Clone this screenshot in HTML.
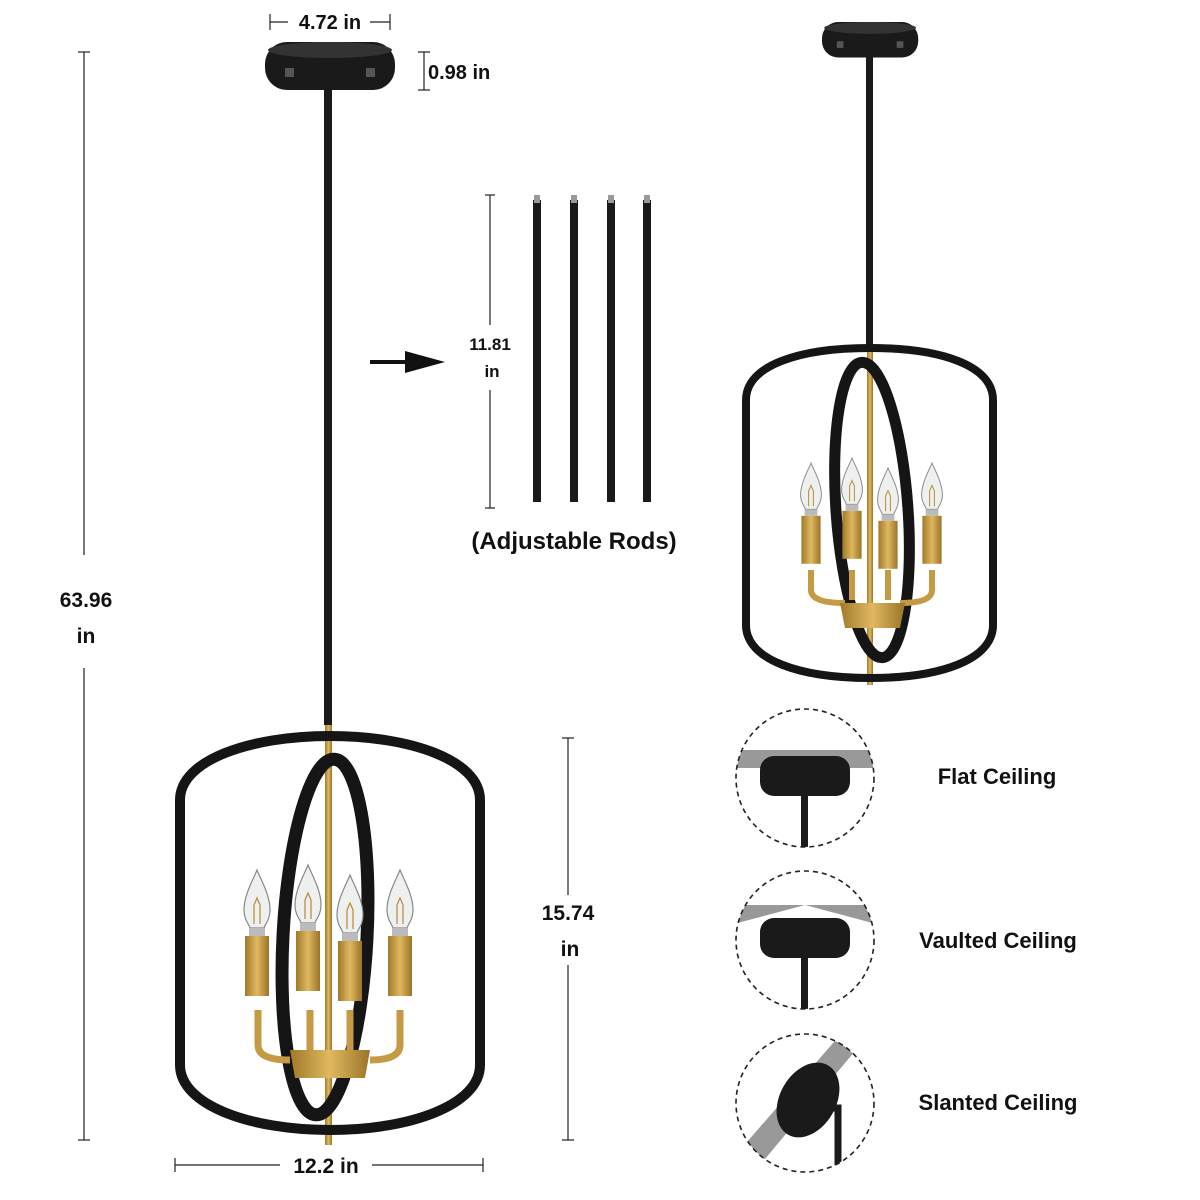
<!DOCTYPE html>
<html><head><meta charset="utf-8"><style>
html,body{margin:0;padding:0;background:#fff;}
svg{display:block}
text{font-family:"Liberation Sans",sans-serif;font-weight:bold;fill:#111}
</style></head><body>
<svg width="1200" height="1200" viewBox="0 0 1200 1200" xmlns="http://www.w3.org/2000/svg">
<defs>
<linearGradient id="gold" x1="0" x2="1"><stop offset="0" stop-color="#a07a2a"/><stop offset="0.5" stop-color="#e0b860"/><stop offset="1" stop-color="#9a7428"/></linearGradient>
<g id="bulb"><path d="M0,-40 C-4,-30 -13,-15 -13,0 C-13,10 -8,14 -7,18 L7,18 C8,14 13,10 13,0 C13,-15 4,-30 0,-40Z" fill="#eef0f0" stroke="#888" stroke-width="1.2"/><path d="M-3,14 L-3,-5 L0,-12 L3,-5 L3,14" fill="none" stroke="#b89040" stroke-width="1.3"/><rect x="-8" y="18" width="16" height="8" fill="#bbb"/><rect x="-12" y="26" width="24" height="60" fill="url(#gold)"/></g>
<g id="canopy"><rect x="0" y="0" width="130" height="48" rx="22" fill="#1a1a1a"/><ellipse cx="65" cy="8" rx="62" ry="8" fill="#333"/><rect x="20" y="26" width="9" height="9" fill="#555"/><rect x="101" y="26" width="9" height="9" fill="#555"/></g>
</defs>

<g stroke="#222" stroke-width="1.2" fill="none">
<line x1="84" y1="52" x2="84" y2="555"/><line x1="84" y1="668" x2="84" y2="1140"/>
<line x1="78" y1="52" x2="90" y2="52"/><line x1="78" y1="1140" x2="90" y2="1140"/>
<line x1="270" y1="22" x2="288" y2="22"/><line x1="370" y1="22" x2="390" y2="22"/><line x1="270" y1="14" x2="270" y2="30"/><line x1="390" y1="14" x2="390" y2="30"/>
<line x1="418" y1="52" x2="430" y2="52"/><line x1="418" y1="90" x2="430" y2="90"/><line x1="424" y1="52" x2="424" y2="90"/>
<line x1="490" y1="195" x2="490" y2="325"/><line x1="490" y1="390" x2="490" y2="508"/><line x1="485" y1="195" x2="495" y2="195"/><line x1="485" y1="508" x2="495" y2="508"/>
<line x1="568" y1="738" x2="568" y2="895"/><line x1="568" y1="965" x2="568" y2="1140"/><line x1="562" y1="738" x2="574" y2="738"/><line x1="562" y1="1140" x2="574" y2="1140"/>
<line x1="175" y1="1165" x2="280" y2="1165"/><line x1="372" y1="1165" x2="483" y2="1165"/><line x1="175" y1="1158" x2="175" y2="1172"/><line x1="483" y1="1158" x2="483" y2="1172"/>
</g>
<text x="86" y="607" font-size="21" text-anchor="middle">63.96</text><text x="86" y="643" font-size="21" text-anchor="middle">in</text>
<text x="330" y="29" font-size="20" text-anchor="middle">4.72 in</text>
<text x="428" y="79" font-size="20">0.98 in</text>
<text x="490" y="350" font-size="17" text-anchor="middle">11.81</text><text x="492" y="377" font-size="17" text-anchor="middle">in</text>
<text x="568" y="920" font-size="21" text-anchor="middle">15.74</text><text x="570" y="956" font-size="21" text-anchor="middle">in</text>
<text x="326" y="1173" font-size="21" text-anchor="middle">12.2 in</text>

<line x1="370" y1="362" x2="410" y2="362" stroke="#111" stroke-width="4"/><polygon points="405,351 445,362 405,373" fill="#111"/>
<g fill="#1a1a1a"><rect x="533" y="200" width="8" height="302"/><rect x="570" y="200" width="8" height="302"/><rect x="607" y="200" width="8" height="302"/><rect x="643" y="200" width="8" height="302"/></g>
<g fill="#999"><rect x="534" y="195" width="6" height="8"/><rect x="571" y="195" width="6" height="8"/><rect x="608" y="195" width="6" height="8"/><rect x="644" y="195" width="6" height="8"/></g>
<text x="574" y="549" font-size="24" text-anchor="middle">(Adjustable Rods)</text>

<use href="#canopy" x="265" y="42"/>
<rect x="324" y="90" width="8" height="635" fill="#1a1a1a"/>
<rect x="325" y="725" width="7" height="420" fill="url(#gold)"/>
<path d="M180,800 C180,760 250,736 330,736 C410,736 480,760 480,800 L480,1065 C480,1105 410,1130 330,1130 C250,1130 180,1105 180,1065 Z" fill="none" stroke="#151515" stroke-width="10"/>
<ellipse cx="325" cy="937" rx="42" ry="178" fill="none" stroke="#151515" stroke-width="13" transform="rotate(3 325 937)"/>
<path d="M258,1010 L258,1045 Q258,1060 290,1060 M400,1010 L400,1045 Q400,1060 370,1060 M310,1010 L310,1050 M350,1010 L350,1050" fill="none" stroke="#c49a45" stroke-width="7"/>
<path d="M290,1050 L370,1050 L365,1078 L295,1078 Z" fill="url(#gold)"/>
<use href="#bulb" x="257" y="910"/><use href="#bulb" x="308" y="905"/><use href="#bulb" x="350" y="915"/><use href="#bulb" x="400" y="910"/>

<use href="#canopy" transform="translate(822 22) scale(0.74)"/>
<rect x="866" y="57" width="7" height="288" fill="#1a1a1a"/>
<rect x="867" y="345" width="6" height="340" fill="url(#gold)"/>
<path d="M746,400 C746,365 800,348 870,348 C940,348 993,365 993,400 L993,625 C993,660 940,678 870,678 C800,678 746,660 746,625 Z" fill="none" stroke="#151515" stroke-width="8"/>
<ellipse cx="872" cy="510" rx="36" ry="148" fill="none" stroke="#151515" stroke-width="11" transform="rotate(-4 872 510)"/>
<path d="M811,570 L811,590 Q811,603 845,603 M932,570 L932,590 Q932,603 900,603 M852,570 L852,600 M888,570 L888,600" fill="none" stroke="#c49a45" stroke-width="6"/>
<path d="M840,603 L905,603 L900,628 L845,628 Z" fill="url(#gold)"/>
<g transform="translate(811 495) scale(0.8)"><use href="#bulb"/></g>
<g transform="translate(852 490) scale(0.8)"><use href="#bulb"/></g>
<g transform="translate(888 500) scale(0.8)"><use href="#bulb"/></g>
<g transform="translate(932 495) scale(0.8)"><use href="#bulb"/></g>

<clipPath id="c1"><circle cx="805" cy="778" r="69"/></clipPath>
<clipPath id="c2"><circle cx="805" cy="940" r="69"/></clipPath>
<clipPath id="c3"><circle cx="805" cy="1103" r="69"/></clipPath>
<g clip-path="url(#c1)"><rect x="730" y="750" width="150" height="18" fill="#999"/><rect x="760" y="756" width="90" height="40" rx="14" fill="#1a1a1a"/><rect x="801" y="796" width="7" height="60" fill="#1a1a1a"/></g>
<g clip-path="url(#c2)"><polygon points="730,925 805,905 880,925 880,905 730,905" fill="#999"/><rect x="760" y="918" width="90" height="40" rx="14" fill="#1a1a1a"/><rect x="801" y="958" width="7" height="60" fill="#1a1a1a"/></g>
<g clip-path="url(#c3)"><polygon points="740,1150 840,1035 860,1045 760,1165" fill="#999"/><ellipse cx="808" cy="1100" rx="28" ry="40" fill="#1a1a1a" transform="rotate(30 808 1100)"/><path d="M815,1108 L838,1108 L838,1180" fill="none" stroke="#1a1a1a" stroke-width="7"/></g>
<g fill="none" stroke="#222" stroke-width="1.6" stroke-dasharray="5 4">
<circle cx="805" cy="778" r="69"/><circle cx="805" cy="940" r="69"/><circle cx="805" cy="1103" r="69"/></g>
<text x="997" y="784" font-size="22" text-anchor="middle">Flat Ceiling</text>
<text x="998" y="948" font-size="22" text-anchor="middle">Vaulted Ceiling</text>
<text x="998" y="1110" font-size="22" text-anchor="middle">Slanted Ceiling</text>
</svg>
</body></html>
